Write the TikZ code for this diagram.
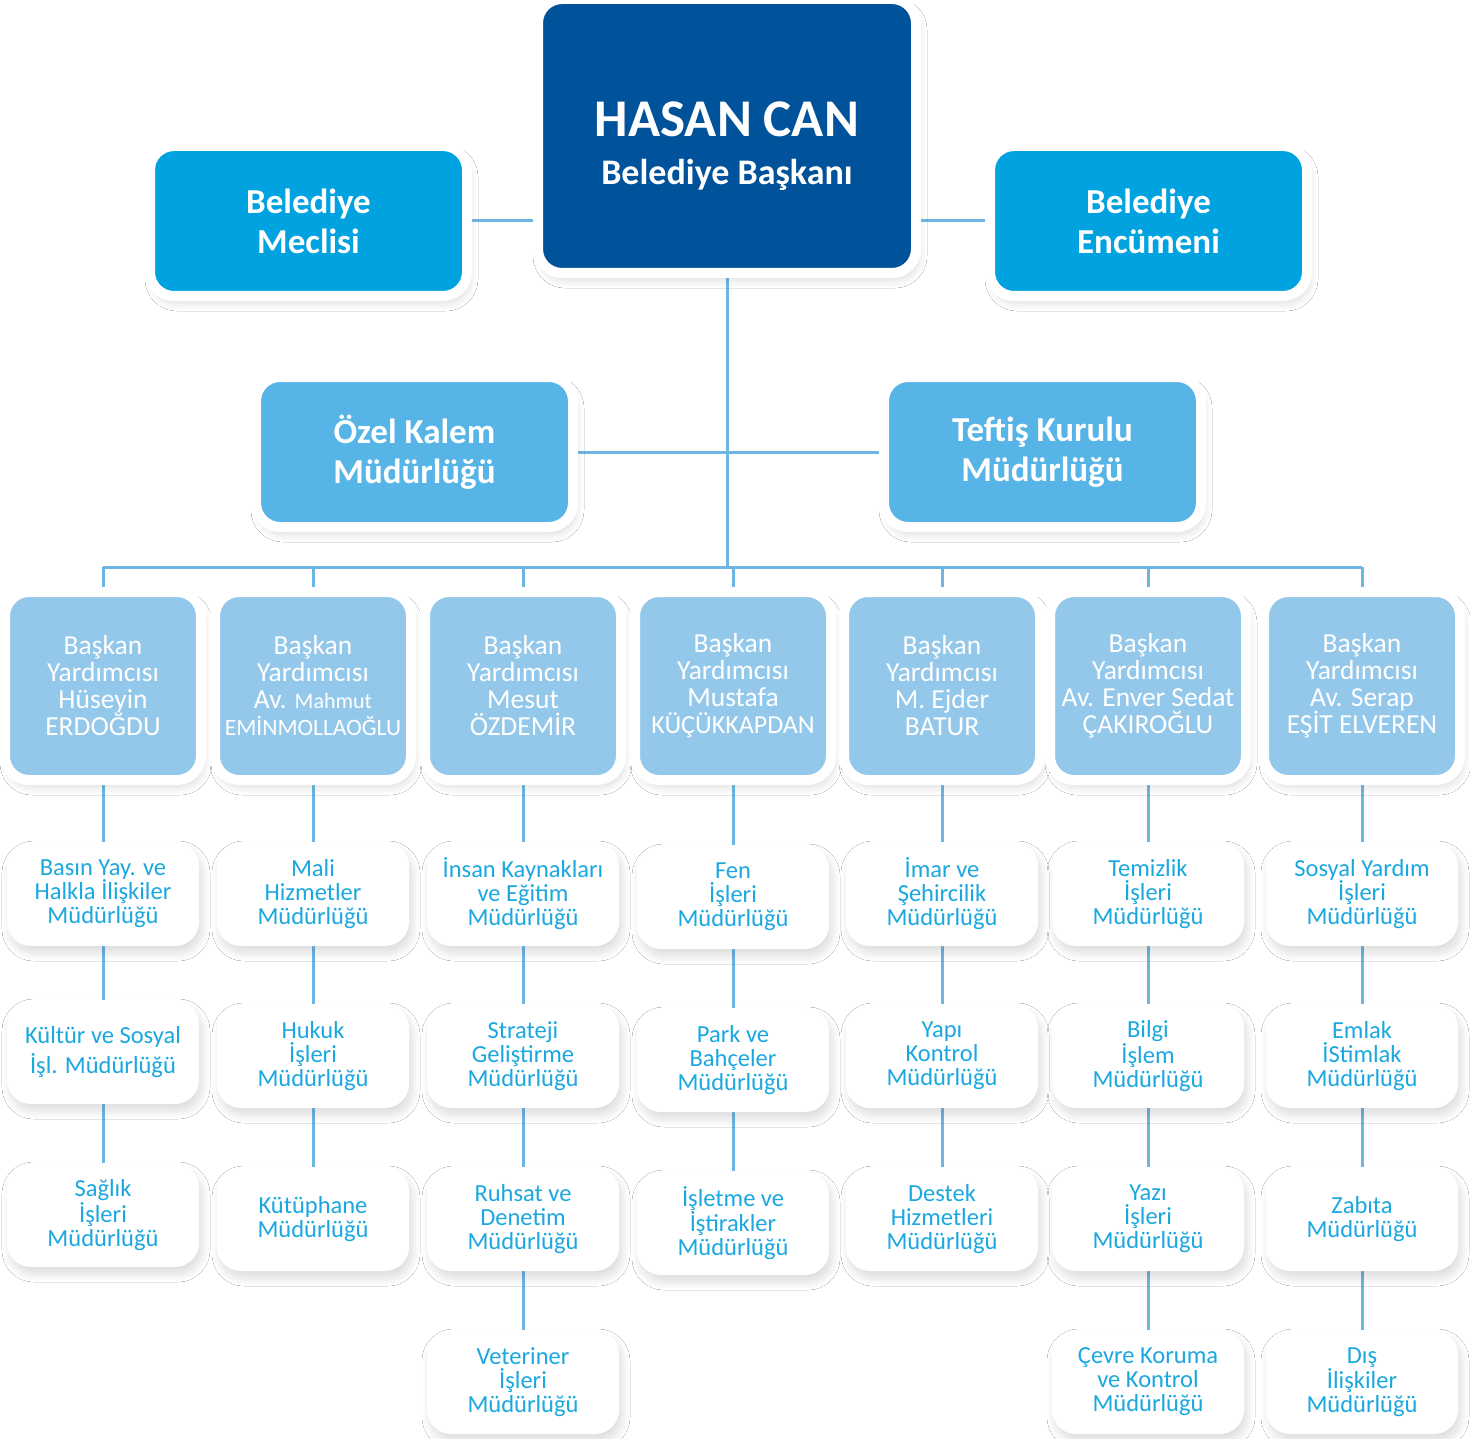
\documentclass[tikz,border=0pt]{standalone}
\usepackage{fontspec}
\setmainfont{Carlito}
\usetikzlibrary{shadows.blur,backgrounds}
\definecolor{topblue}{HTML}{00529B}
\definecolor{lvltwo}{HTML}{00A3E0}
\definecolor{lvlthree}{HTML}{56B4E6}
\definecolor{vpbox}{HTML}{93C8EB}
\definecolor{linec}{HTML}{6DB6E4}
\definecolor{childtxt}{HTML}{1BA8E0}
\begin{document}
\begin{tikzpicture}[x=1pt,y=-1pt,
  softshadow/.style={blur shadow={shadow xshift=3pt, shadow yshift=-7pt, shadow opacity=14, shadow blur radius=8pt, shadow blur steps=14}},
  bordered/.style={draw=white, line width=10pt, rounded corners=24pt, inner sep=0pt, align=center, text=white, softshadow},
  headbox/.style={bordered, fill=topblue, minimum width=378pt, minimum height=274pt},
  headtext/.style={text=white, align=center, font=\bfseries\fontsize{36}{48}\selectfont},
  lvlbox/.style={bordered, fill=lvltwo, minimum width=317pt, minimum height=150pt, font=\bfseries\fontsize{35}{40}\selectfont},
  officebox/.style={bordered, fill=lvlthree, minimum width=317pt, minimum height=150pt, font=\bfseries\fontsize{35}{40}\selectfont},
  vpnode/.style={bordered, fill=vpbox, minimum width=196pt, minimum height=188pt, font=\fontsize{27.5}{27}\selectfont},
  childbox/.style={fill=white, rounded corners=24pt, minimum width=192pt, minimum height=104pt, inner sep=0pt, align=center, text=childtxt, font=\fontsize{24.5}{24}\selectfont, softshadow},
  conn/.style={draw=linec, line width=3pt}
]
\useasboundingbox (0,0) rectangle (1470,1439);

% top levels
\node[headbox, label={[headtext, yshift=-10pt]center:{\fontsize{53}{53}\selectfont HASAN CAN}\\Belediye Başkanı}] (top) at (727,136) {};
\node[lvlbox] (meclis) at (308.5,221) {Belediye\\Meclisi};
\node[lvlbox] (encumen) at (1148.5,221) {Belediye\\Encümeni};
\node[officebox] (ozel) at (414.5,452) {Özel Kalem\\Müdürlüğü};
\node[officebox] (teftis) at (1042.5,452) {Teftiş Kurulu\\Müdürlüğü};

% vice mayors
\node[vpnode] (vp1) at (103,686) {Başkan\\Yardımcısı\\Hüseyin\\ERDOĞDU};
\node[vpnode] (vp2) at (313,686) {Başkan\\Yardımcısı\\Av. {\fontsize{22}{27}\selectfont Mahmut}\\{\fontsize{23.5}{27}\selectfont EMİNMOLLAOĞLU}};
\node[vpnode] (vp3) at (523,686) {Başkan\\Yardımcısı\\Mesut\\ÖZDEMİR};
\node[vpnode] (vp4) at (733,686) {Başkan\\Yardımcısı\\Mustafa\\{\fontsize{26}{27}\selectfont KÜÇÜKKAPDAN}};
\node[vpnode] (vp5) at (942,686) {Başkan\\Yardımcısı\\M. Ejder\\BATUR};
\node[vpnode] (vp6) at (1148,686) {Başkan\\Yardımcısı\\Av. Enver Sedat\\ÇAKIROĞLU};
\node[vpnode] (vp7) at (1362,686) {Başkan\\Yardımcısı\\Av. Serap\\EŞİT ELVEREN};

% column 1
\node[childbox] (c11) at (103,894) {Basın Yay. ve\\Halkla İlişkiler\\Müdürlüğü};
\node[childbox, font=\fontsize{24.5}{30}\selectfont] (c12) at (103,1052) {Kültür ve Sosyal\\İşl. Müdürlüğü};
\node[childbox] (c13) at (103,1215) {Sağlık\\İşleri\\Müdürlüğü};
% column 2
\node[childbox] (c21) at (313,894) {Mali\\Hizmetler\\Müdürlüğü};
\node[childbox] (c22) at (313,1056) {Hukuk\\İşleri\\Müdürlüğü};
\node[childbox] (c23) at (313,1219) {Kütüphane\\Müdürlüğü};
% column 3
\node[childbox] (c31) at (523,894) {İnsan Kaynakları\\ve Eğitim\\Müdürlüğü};
\node[childbox] (c32) at (523,1056) {Strateji\\Geliştirme\\Müdürlüğü};
\node[childbox] (c33) at (523,1219) {Ruhsat ve\\Denetim\\Müdürlüğü};
\node[childbox] (c34) at (523,1382) {Veteriner\\İşleri\\Müdürlüğü};
% column 4
\node[childbox] (c41) at (733,897) {Fen\\İşleri\\Müdürlüğü};
\node[childbox] (c42) at (733,1060) {Park ve\\Bahçeler\\Müdürlüğü};
\node[childbox] (c43) at (733,1223) {İşletme ve\\İştirakler\\Müdürlüğü};
% column 5
\node[childbox] (c51) at (942,894) {İmar ve\\Şehircilik\\Müdürlüğü};
\node[childbox] (c52) at (942,1056) {Yapı\\Kontrol\\Müdürlüğü};
\node[childbox] (c53) at (942,1219) {Destek\\Hizmetleri\\Müdürlüğü};
% column 6
\node[childbox] (c61) at (1148,894) {Temizlik\\İşleri\\Müdürlüğü};
\node[childbox] (c62) at (1148,1056) {Bilgi\\İşlem\\Müdürlüğü};
\node[childbox] (c63) at (1148,1219) {Yazı\\İşleri\\Müdürlüğü};
\node[childbox] (c64) at (1148,1382) {Çevre Koruma\\ve Kontrol\\Müdürlüğü};
% column 7
\node[childbox] (c71) at (1362,894) {Sosyal Yardım\\İşleri\\Müdürlüğü};
\node[childbox] (c72) at (1362,1056) {Emlak\\İStimlak\\Müdürlüğü};
\node[childbox] (c73) at (1362,1219) {Zabıta\\Müdürlüğü};
\node[childbox] (c74) at (1362,1382) {Dış\\İlişkiler\\Müdürlüğü};

\coordinate (busL) at (103,567);
\coordinate (busR) at (1362,567);

\begin{scope}[on background layer]
  \fill[white] (0,0) rectangle (1470,1439);
  \draw[conn] (meclis.east) -- (meclis.east -| top.west);
  \draw[conn] (encumen.west) -- (encumen.west -| top.east);
  \draw[conn] (ozel.east) -- (teftis.west);
  \draw[conn] (top.south) -- (top.south |- busL);
  \draw[conn] (busL) -- (busR);
  \foreach \v in {1,...,7} {\draw[conn] (vp\v.north |- busL) -- (vp\v.north);}
  \draw[conn] (vp1) -- (c11) -- (c12) -- (c13);
  \draw[conn] (vp2) -- (c21) -- (c22) -- (c23);
  \draw[conn] (vp3) -- (c31) -- (c32) -- (c33) -- (c34);
  \draw[conn] (vp4) -- (c41) -- (c42) -- (c43);
  \draw[conn] (vp5) -- (c51) -- (c52) -- (c53);
  \draw[conn] (vp6) -- (c61) -- (c62) -- (c63) -- (c64);
  \draw[conn] (vp7) -- (c71) -- (c72) -- (c73) -- (c74);
\end{scope}
\end{tikzpicture}
\end{document}
